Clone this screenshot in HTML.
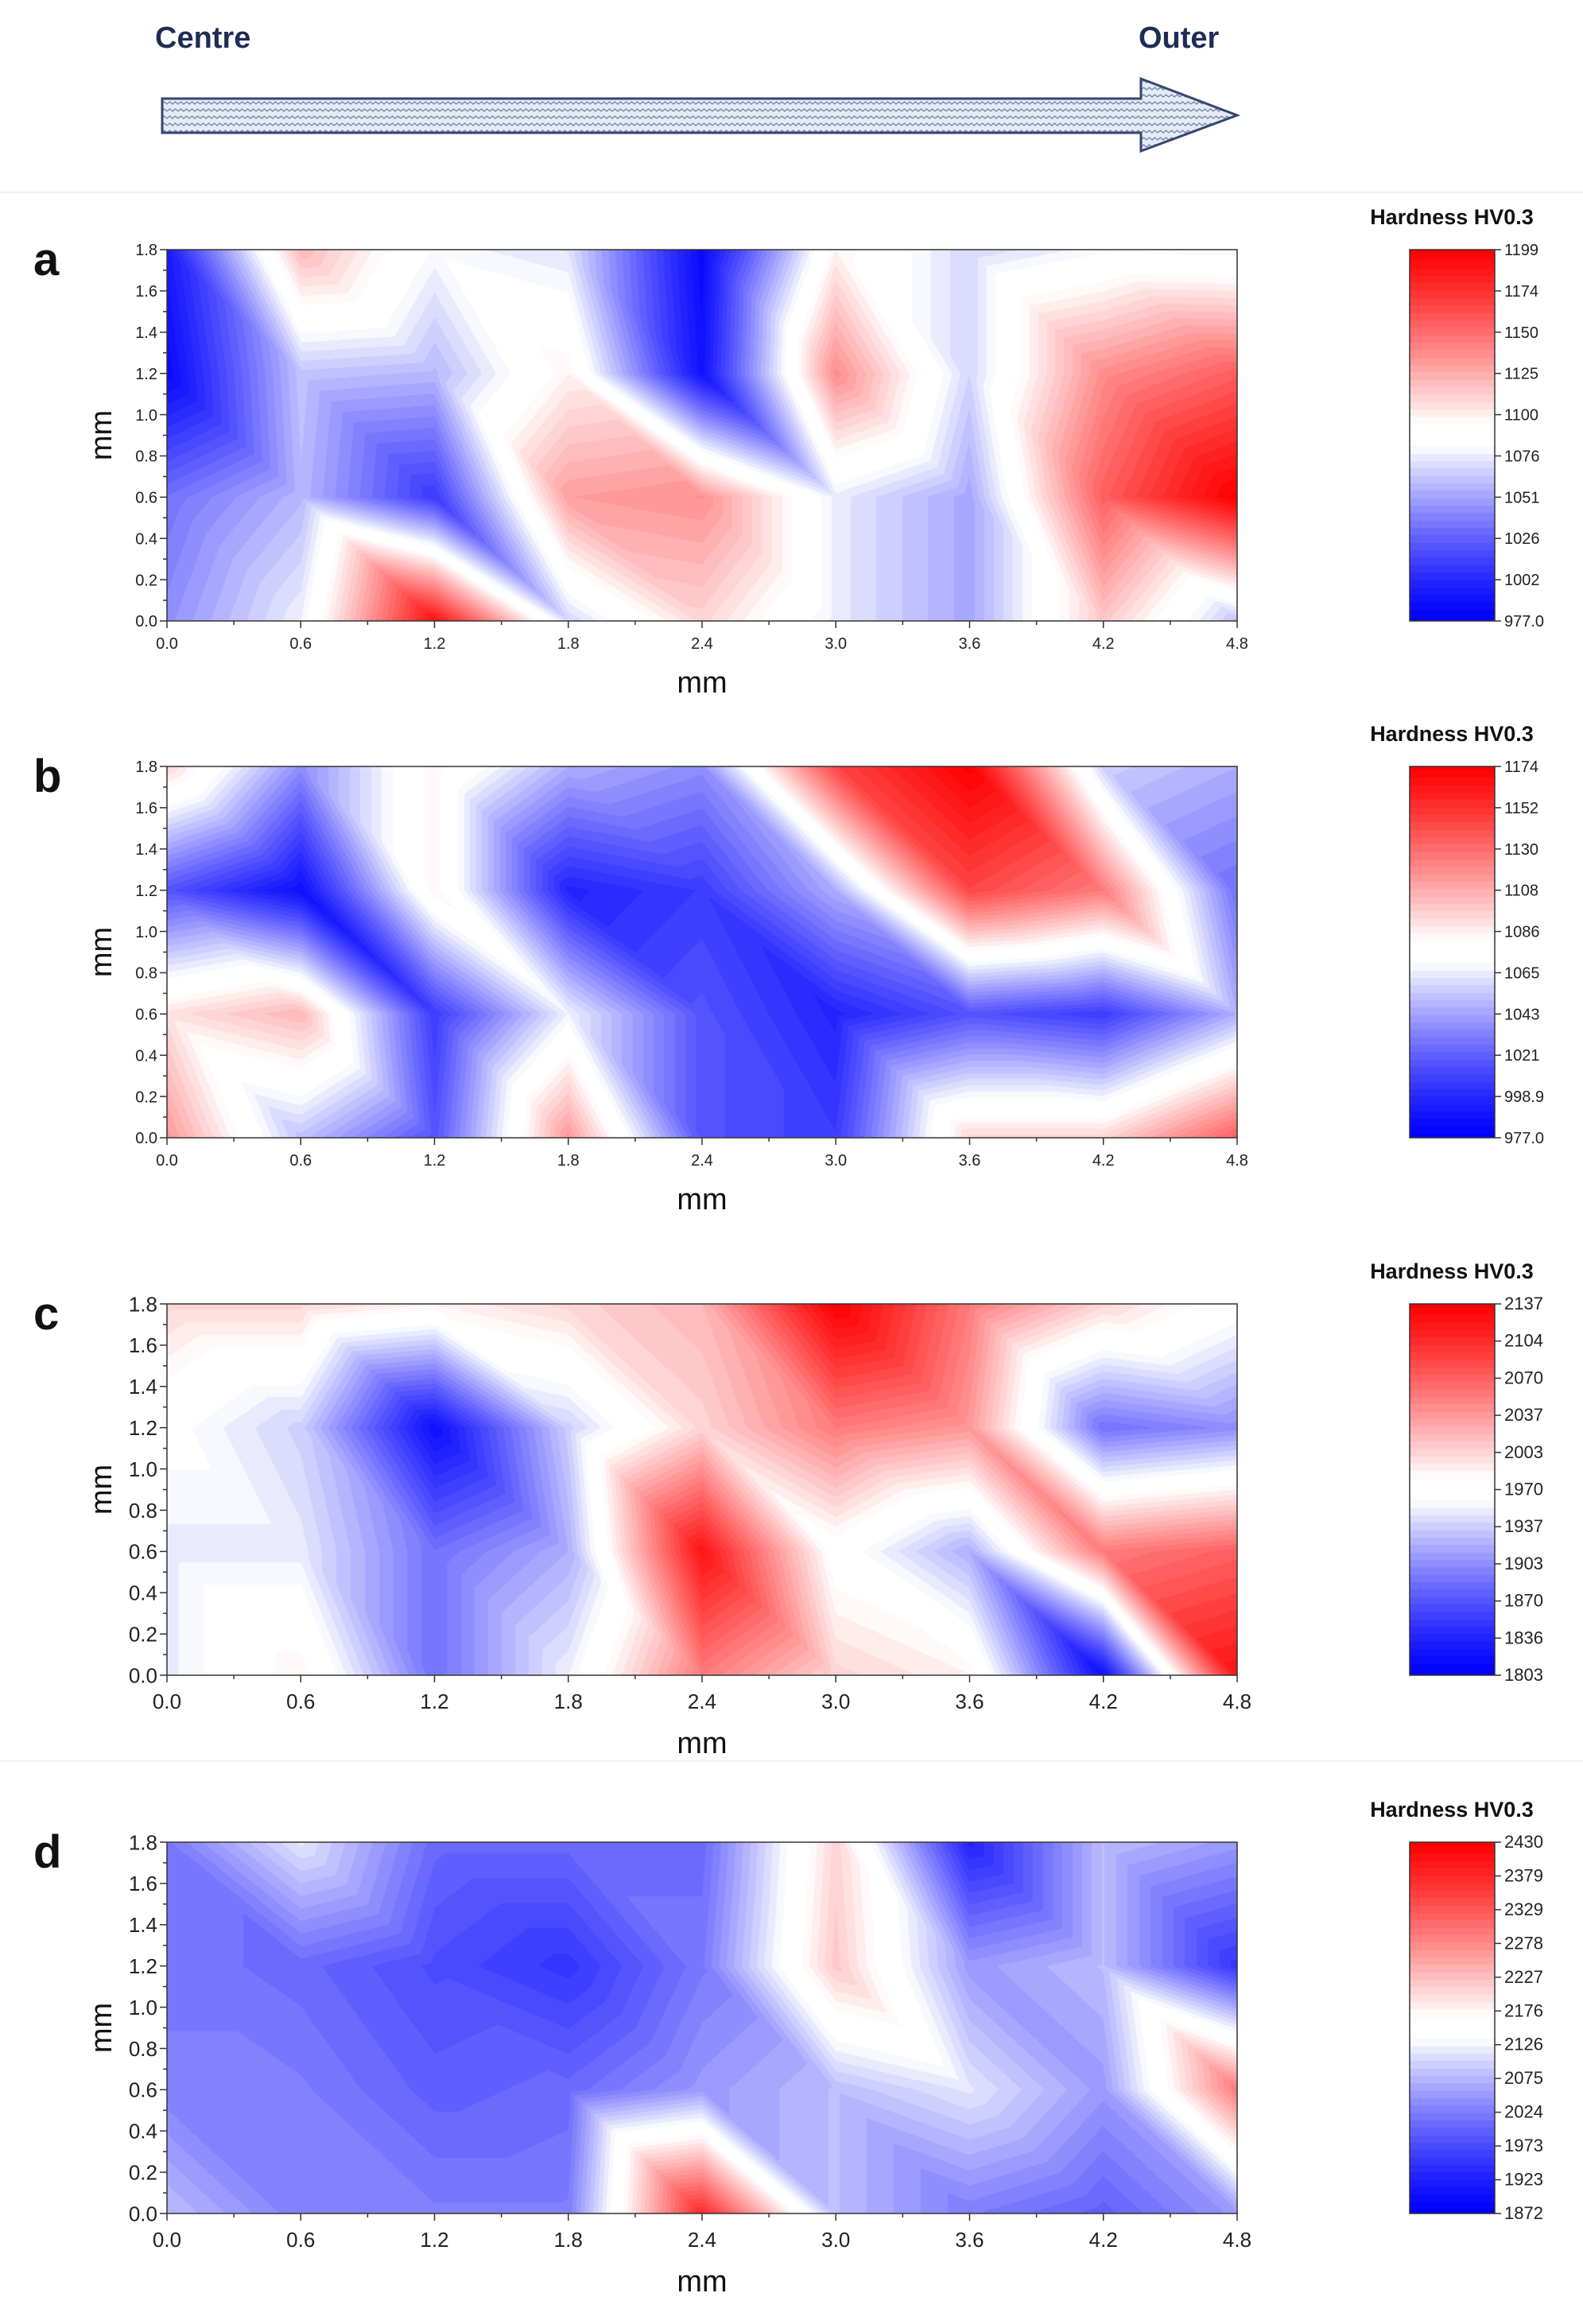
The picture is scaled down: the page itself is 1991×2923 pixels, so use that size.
<!DOCTYPE html>
<html><head><meta charset="utf-8">
<style>
html,body{margin:0;padding:0;background:#fff;}
#root{position:relative;width:1991px;height:2923px;overflow:hidden;font-family:"Liberation Sans",Arial,sans-serif;}
canvas{position:absolute;}
svg{position:absolute;left:0;top:0;}
</style></head>
<body>
<div id="root">
<svg id="ov" width="1991" height="2923">
  <defs>
    <pattern id="zig" width="14" height="9" patternUnits="userSpaceOnUse">
      <rect width="14" height="9" fill="#e4ebf4"/>
      <path d="M0 5 L3.5 2 L7 5 L10.5 2 L14 5" fill="none" stroke="#6f86a8" stroke-width="1.3"/>
    </pattern>
  </defs>
  <text x="195" y="60" font-size="38" font-weight="bold" fill="#1f2d55">Centre</text>
  <text x="1432" y="60" font-size="38" font-weight="bold" fill="#1f2d55">Outer</text>
  <path d="M204 124 L1435 124 L1435 99 L1556 145 L1435 190 L1435 167 L204 167 Z" fill="url(#zig)" stroke="#34466e" stroke-width="3"/>
  <line x1="0" y1="242" x2="1991" y2="242" stroke="#f0f0f0" stroke-width="2"/>
  <line x1="0" y1="2215" x2="1991" y2="2215" stroke="#f0f0f0" stroke-width="2"/>
</svg>
</div>
<script>
// ---- data: rows from y=1.8 (top) to y=0 (bottom), columns x=0..4.8 step 0.6 ----
const xCats=[0,0.6,1.2,1.8,2.4,3.0,3.6,4.2,4.8];
const yCats=[1.8,1.2,0.6,0.0];
const xTickLabels=["0.0","0.6","1.2","1.8","2.4","3.0","3.6","4.2","4.8"];
const yTickLabels=["0.0","0.2","0.4","0.6","0.8","1.0","1.2","1.4","1.6","1.8"];
const rangeA=[977,1199];
const valuesA=[
 [995,1121,1080,1072,985,1099,1068,1080,1078],
 [985,1062,1058,1099,990,1137,1068,1137,1155],
 [1033,1058,1010,1130,1135,1075,1052,1155,1199],
 [1044,1077,1188,1068,1110,1075,1052,1115,1062]];
const cbA=["1199","1174","1150","1125","1100","1076","1051","1026","1002","977.0"];
const rangeB=[977,1174];
const valuesB=[
 [1095,1036,1085,1046,1036,1144,1174,1056,1046],
 [1016,987,1085,997,1007,1046,1144,1125,1026],
 [1091,1105,1007,1066,1016,997,1016,1007,1046],
 [1115,1052,1016,1115,1016,1007,1095,1095,1135]];
const cbB=["1174","1152","1130","1108","1086","1065","1043","1021","998.9","977.0"];
const rangeC=[1803,2137];
const valuesC=[
 [2003,2003,1987,2003,2020,2137,2054,2003,1970],
 [1965,1937,1820,1937,2003,2054,2037,1887,1903],
 [1950,1950,1887,1920,2120,1970,1920,2054,2070],
 [1950,1987,1887,1953,2054,2003,1987,1820,2120]];
const cbC=["2137","2104","2070","2037","2003","1970","1937","1903","1870","1836","1803"];
const rangeD=[1872,2430];
const valuesD=[
 [2020,2115,2005,2005,2005,2207,1928,2080,2050],
 [2020,2005,1975,1950,2020,2218,2050,2080,1950],
 [2025,2025,1995,2005,2050,2080,2115,2050,2290],
 [2080,2025,2025,2025,2374,2080,2025,1995,2050]];
const cbD=["2430","2379","2329","2278","2227","2176","2126","2075","2024","1973","1923","1872"];

const panels=[
 {id:"a",vals:valuesA,range:rangeA,cb:cbA,top:314,small:true},
 {id:"b",vals:valuesB,range:rangeB,cb:cbB,top:964,small:true},
 {id:"c",vals:valuesC,range:rangeC,cb:cbC,top:1640,small:false},
 {id:"d",vals:valuesD,range:rangeD,cb:cbD,top:2317,small:false}];
const PL=210,PW=1346,PH=467,CBL=1773,CBW=107;
const NS="http://www.w3.org/2000/svg";
const ov=document.getElementById('ov');
const root=document.getElementById('root');

function cmap(n){
  n=Math.max(0,Math.min(1,n));
  const lv=50; n=Math.round(n*lv)/lv;
  if(n>=0.47&&n<=0.53) return [255,255,255];
  if(n<0.5){const t=Math.min(1,n/0.47);const g=Math.round(255*Math.pow(t,1.3));return [g,g,255];}
  const t=Math.min(1,(1-n)/0.47);const g=Math.round(255*Math.pow(t,1.15));return [255,g,g];
}
function mk(tag,attrs,txt){const e=document.createElementNS(NS,tag);for(const k in attrs)e.setAttribute(k,attrs[k]);if(txt!==undefined)e.textContent=txt;ov.appendChild(e);return e;}

panels.forEach(p=>{
  const xMax=xCats[xCats.length-1], yMax=yCats[0];
  const sx=v=>PL+v/xMax*PW, sy=v=>p.top+PH-v/yMax*PH;
  const rows=yCats.length, cols=xCats.length;
  const cv=document.createElement('canvas');
  cv.width=PW;cv.height=PH;cv.style.left=PL+'px';cv.style.top=p.top+'px';
  
  
  root.insertBefore(cv,ov);
  const ctx=cv.getContext('2d');const img=ctx.createImageData(PW,PH);
  const lo=p.range[0],hi=p.range[1];
  for(let py=0;py<PH;py++){
    const yv=yMax*(1-py/(PH-1));
    let r=(yMax-yv)/(yMax/(rows-1)); let ri=Math.min(rows-2,Math.floor(r)); let fy=r-ri;
    for(let px=0;px<PW;px++){
      const xv=xMax*px/(PW-1);
      let c=xv/(xMax/(cols-1)); let ci=Math.min(cols-2,Math.floor(c)); let fx=c-ci;
      const v00=p.vals[ri][ci],v10=p.vals[ri][ci+1],v01=p.vals[ri+1][ci],v11=p.vals[ri+1][ci+1];
      let v;
      if(fx>=fy) v=v00+(v10-v00)*fx+(v11-v10)*fy;
      else v=v00+(v01-v00)*fy+(v11-v01)*fx;
      const col=cmap((v-lo)/(hi-lo));
      const k=(py*PW+px)*4;img.data[k]=col[0];img.data[k+1]=col[1];img.data[k+2]=col[2];img.data[k+3]=255;
    }
  }
  ctx.putImageData(img,0,0);
  const cb=document.createElement('canvas');cb.width=CBW;cb.height=PH;cb.style.left=CBL+'px';cb.style.top=p.top+'px';
  
  
  root.insertBefore(cb,ov);
  const c2=cb.getContext('2d');
  for(let y=0;y<PH;y++){const col=cmap(1-y/(PH-1));c2.fillStyle=`rgb(${col[0]},${col[1]},${col[2]})`;c2.fillRect(0,y,CBW,1);}
  const fs=p.small?20:26;
  let e=mk('rect',{x:PL,y:p.top,width:PW,height:PH,fill:'none',stroke:'#333','stroke-width':1.5});
  
  e=mk('rect',{x:CBL,y:p.top,width:CBW,height:PH,fill:'none',stroke:'#333','stroke-width':1.5});
  
  for(let i=0;i<=16;i++){const xv=i*0.3;const X=sx(xv);mk('line',{x1:X,y1:p.top+PH,x2:X,y2:p.top+PH+(i%2?5:9),stroke:'#333','stroke-width':1.5});}
  xTickLabels.forEach((t,i)=>{e=mk('text',{x:sx(xCats[i]),y:p.top+PH+(p.small?35:42),'font-size':fs,'text-anchor':'middle',fill:'#222'},t);
    });
  for(let i=0;i<=18;i++){const Y=sy(i*0.1);mk('line',{x1:PL,y1:Y,x2:PL-(i%2?5:9),y2:Y,stroke:'#333','stroke-width':1.5});}
  yTickLabels.forEach((t,i)=>{e=mk('text',{x:PL-12,y:sy(i*0.2)+fs*0.36,'font-size':fs,'text-anchor':'end',fill:'#222'},t);
    });
  e=mk('text',{x:883,y:p.top+PH+(p.small?90:98),'font-size':38,'text-anchor':'middle',fill:'#111'},'mm');
  
  e=mk('text',{x:0,y:0,'font-size':38,'text-anchor':'middle',fill:'#111',transform:`translate(140,${p.top+PH/2}) rotate(-90)`},'mm');
  
  e=mk('text',{x:42,y:p.top+32,'font-size':58,'font-weight':'bold',fill:'#111'},p.id);
  
  e=mk('text',{x:1826,y:p.top-32,'font-size':27,'font-weight':'bold','text-anchor':'middle',fill:'#111'},'Hardness HV0.3');
  
  const n=p.cb.length;
  p.cb.forEach((t,i)=>{const Y=p.top+i*PH/(n-1);
    mk('line',{x1:CBL+CBW,y1:Y,x2:CBL+CBW+8,y2:Y,stroke:'#333','stroke-width':1.5});
    e=mk('text',{x:CBL+CBW+12,y:Y+7,'font-size':p.small?20:22,fill:'#222'},t);
    });
});
</script>
</body></html>
